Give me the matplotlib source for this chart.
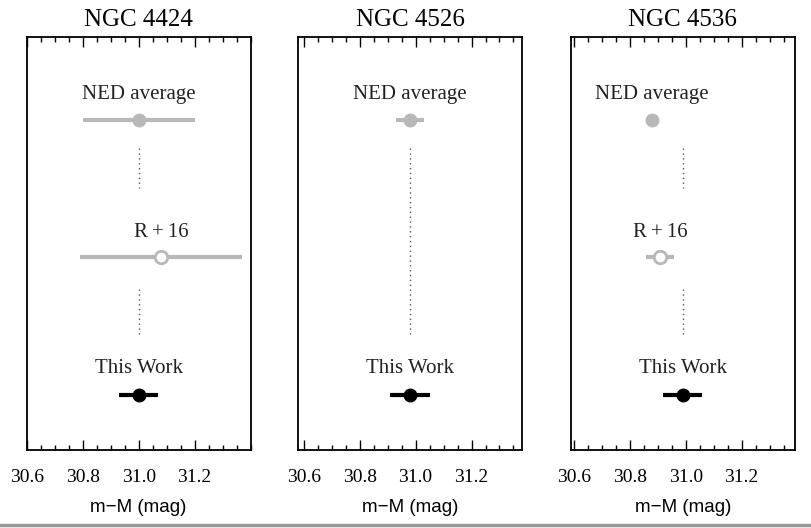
import matplotlib.pyplot as plt
from matplotlib.lines import Line2D
from matplotlib.ticker import MultipleLocator

# Distance moduli (m-M) and 1-sigma errors for each galaxy
galaxies = ["NGC 4424", "NGC 4526", "NGC 4536"]
ned_mu = [31.00, 30.98, 30.88]
ned_err = [0.20, 0.05, 0.0]
r16_mu = [31.08, None, 30.91]
r16_err = [0.29, None, 0.05]
this_mu = [31.00, 30.98, 30.99]
this_err = [0.07, 0.07, 0.07]
xlims = [(30.60, 31.40), (30.58, 31.38), (30.59, 31.39)]

# vertical slots for the three entries
y_ned, y_r16, y_this = 3, 2, 1

gray = "#b8b8b8"
serif = ["Liberation Serif", "DejaVu Serif"]

fig = plt.figure(figsize=(8.11, 5.28), dpi=100)
lefts = [0.033, 0.3675, 0.704]

for i, name in enumerate(galaxies):
    ax = fig.add_axes([lefts[i], 0.148, 0.276, 0.782])
    ax.set_xlim(*xlims[i])
    ax.set_ylim(0.6, 3.6)

    # NED average
    ax.errorbar(ned_mu[i], y_ned, xerr=ned_err[i], fmt="o", color=gray,
                ms=9, elinewidth=3, capsize=0, zorder=3)
    ax.text(ned_mu[i], y_ned + 0.18, "NED average", ha="center", va="center",
            family=serif, fontsize=15, color="#222222")

    # Riess et al. 2016
    if r16_mu[i] is not None:
        ax.errorbar(r16_mu[i], y_r16, xerr=r16_err[i], fmt="o", color=gray,
                    mfc="white", mec=gray, mew=2, ms=9, elinewidth=3,
                    capsize=0, zorder=3)
        ax.text(r16_mu[i], y_r16 + 0.18, "R\u2009+\u200916", ha="center",
                va="center", family=serif, fontsize=15, color="#222222")
        segs = [(2.79, 2.5), (1.77, 1.42)]
    else:
        segs = [(2.79, 1.42)]

    # this work
    ax.errorbar(this_mu[i], y_this, xerr=this_err[i], fmt="o", color="black",
                ms=9, elinewidth=3, capsize=0, zorder=3)
    ax.text(this_mu[i], y_this + 0.19, "This Work", ha="center", va="center",
            family=serif, fontsize=15, color="#222222")

    for y0, y1 in segs:
        ax.plot([this_mu[i], this_mu[i]], [y0, y1], ls=(0, (1, 2.5)),
                color="#555555", lw=1)

    ax.set_title(name, family=serif, fontsize=18, pad=8)
    ax.set_yticks([])
    ax.xaxis.set_major_locator(MultipleLocator(0.2))
    ax.xaxis.set_minor_locator(MultipleLocator(0.05))
    ax.set_xticks([30.6, 30.8, 31.0, 31.2])
    ax.set_xticklabels(["30.6", "30.8", "31.0", "31.2"], family=serif,
                       fontsize=14)
    ax.tick_params(axis="x", which="both", direction="in", top=True,
                   bottom=True, width=1, pad=14)
    ax.tick_params(axis="x", which="major", length=7)
    ax.tick_params(axis="x", which="minor", length=3.5)
    for sp in ax.spines.values():
        sp.set_linewidth(1.3)
    ax.set_xlabel("m\u2212M (mag)", family=["Liberation Sans", "DejaVu Sans"],
                  fontsize=13.5, labelpad=9)

# page rule along the bottom edge
fig.add_artist(Line2D([0, 1], [0.006, 0.006], color="#999999", lw=2.5))

fig.savefig("out.png", dpi=100)
